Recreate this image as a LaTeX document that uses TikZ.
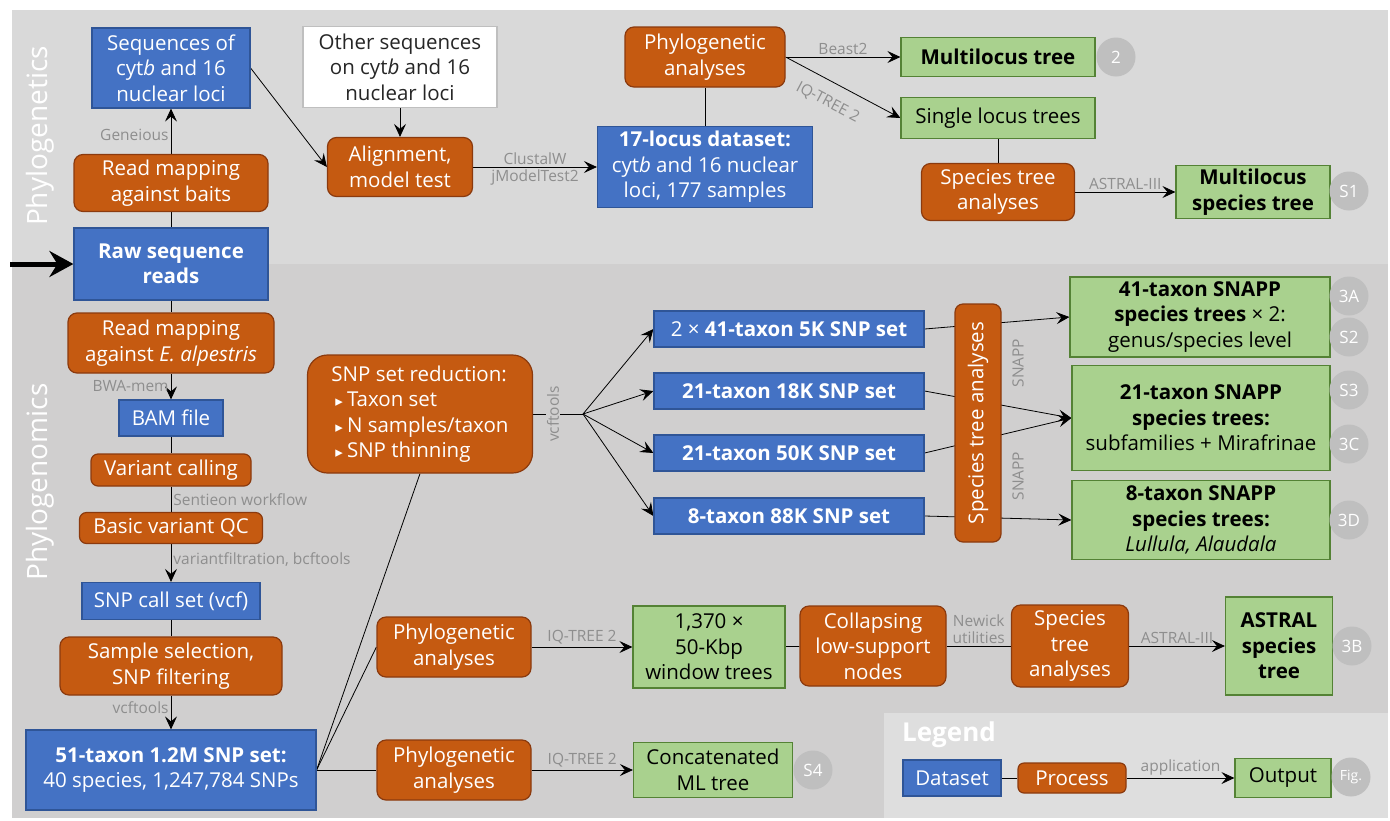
\documentclass[tikz,border=0pt]{standalone}
\usepackage{fontspec}
\setmainfont{Open Sans}
\newfontfamily\symfont{DejaVu Sans}
\usepackage{tikz}
\usetikzlibrary{arrows.meta}
\pgfdeclarelayer{bg}
\pgfsetlayers{bg,main}

\definecolor{dsblue}{HTML}{4472C4}
\definecolor{dsborder}{HTML}{2F5597}
\definecolor{prorange}{HTML}{C55A11}
\definecolor{prborder}{HTML}{8B3A0E}
\definecolor{outgreen}{HTML}{A9D18E}
\definecolor{outborder}{HTML}{548235}
\definecolor{figgray}{HTML}{BFBFBF}
\definecolor{toolgray}{HTML}{8E8E8E}
\definecolor{paneltop}{HTML}{D9D9D9}
\definecolor{panelbot}{HTML}{D0CFCF}
\definecolor{panelleg}{HTML}{DEDEDE}

\newcommand\boxfont{\fontsize{20.5}{25.5}\selectfont}
\newcommand\toolfont{\fontsize{15.5}{18}\selectfont}
\newcommand\figfont{\fontsize{17}{18}\selectfont}
\newcommand\tri{{\symfont\fontsize{15}{15}\selectfont ▸}\hspace{4pt}}

\tikzset{
  dataset/.style={draw=dsborder, line width=1.2pt, fill=dsblue, text=white, align=center, inner sep=2pt},
  process/.style={draw=prborder, line width=1.2pt, fill=prorange, text=white, align=center, inner sep=2pt, rounded corners=9pt},
  output/.style={draw=outborder, line width=1.2pt, fill=outgreen, text=black, align=center, inner sep=2pt},
  source/.style={draw=figgray, line width=1.2pt, fill=white, text=black!85, align=center, inner sep=2pt},
  figref/.style={circle, fill=figgray, text=white, minimum size=39pt, inner sep=0pt, font=\figfont},
  tool/.style={text=toolgray, font=\toolfont, inner sep=2pt},
  flow/.style={-{Stealth[length=13pt, width=12pt, inset=5pt]}, line width=0.8pt},
  link/.style={line width=0.8pt},
  panel/.style={text=white, font=\fontsize{28}{30}\selectfont, rotate=90},
}

\begin{document}
\begin{tikzpicture}[x=1pt, y=-1pt, font=\boxfont]
        \useasboundingbox (0,0) rectangle (1390,820);
        % phylogenetics
        \node (seqs) [dataset, minimum width=158pt, minimum height=80pt] at (171,68) {Sequences of\\cyt\textit{b} and 16\\nuclear loci};
        \node (other) [source, minimum width=194pt, minimum height=81pt] at (400,67) {Other sequences\\on cyt\textit{b} and 16\\nuclear loci};
        \node (baits) [process, minimum width=194pt, minimum height=57pt] at (171,183) {Read mapping\\against baits};
        \node (raw) [dataset, minimum width=194pt, minimum height=72pt] at (171,264) {\textbf{Raw sequence}\\\textbf{reads}};
        \node (align) [process, minimum width=145pt, minimum height=59pt] at (400,167) {Alignment,\\model test};
        \node (locus) [dataset, minimum width=215pt, minimum height=81pt] at (705,167) {\textbf{17-locus dataset:}\\cyt\textit{b} and 16 nuclear\\loci, 177 samples};
        \node (phylA) [process, minimum width=160pt, minimum height=60pt] at (705,57) {Phylogenetic\\analyses};
        \node (mltree) [output, minimum width=194pt, minimum height=39pt] at (998,57) {\textbf{Multilocus tree}};
        \node (f2) [figref] at (1116,57) {2};
        \node (single) [output, minimum width=194pt, minimum height=41pt] at (998,118) {Single locus trees};
        \node (sptA) [process, minimum width=153pt, minimum height=57pt] at (998,192) {Species tree\\analyses};
        \node (mlsp) [output, minimum width=154pt, minimum height=53pt] at (1253,192) {\textbf{Multilocus}\\\textbf{species tree}};
        \node (fS1) [figref] at (1349,191) {S1};
        % phylogenomics
        \node (mapE) [process, minimum width=206pt, minimum height=60pt] at (171,343) {Read mapping\\against \textit{E. alpestris}};
        \node (bam) [dataset, minimum width=104pt, minimum height=36pt] at (171,418) {BAM file};
        \node (call) [process, minimum width=160pt, minimum height=32pt, rounded corners=7pt] at (171,470) {Variant calling};
        \node (qc) [process, minimum width=183pt, minimum height=31pt, rounded corners=7pt] at (171,528) {Basic variant QC};
        \node (vcf) [dataset, minimum width=178pt, minimum height=37pt] at (171,601) {SNP call set (vcf)};
        \node (select) [process, minimum width=222pt, minimum height=58pt] at (171,666) {Sample selection,\\SNP filtering};
        \node (snp51) [dataset, minimum width=290pt, minimum height=80pt] at (171,770) {\textbf{51-taxon 1.2M SNP set:}\\40 species, 1,247,784 SNPs};
        \node (reduce) [process, minimum width=225pt, minimum height=118pt, rounded corners=20pt, align=left] at (420,414) {SNP set reduction:\\\hspace*{4pt}\tri Taxon set\\\hspace*{4pt}\tri N samples/taxon\\\hspace*{4pt}\tri SNP thinning};
        \node (set41) [dataset, minimum width=270pt, minimum height=36pt] at (789,329) {2 × \textbf{41-taxon 5K SNP set}};
        \node (set18) [dataset, minimum width=270pt, minimum height=36pt] at (789,391) {\textbf{21-taxon 18K SNP set}};
        \node (set50) [dataset, minimum width=270pt, minimum height=36pt] at (789,453) {\textbf{21-taxon 50K SNP set}};
        \node (set88) [dataset, minimum width=270pt, minimum height=36pt] at (789,516) {\textbf{8-taxon 88K SNP set}};
        \node (sptV) [process, rotate=90, minimum width=238pt, minimum height=46pt, rounded corners=8pt] at (978,423) {Species tree analyses};
        \node (snapp41) [output, minimum width=260pt, minimum height=80pt] at (1200,317) {\textbf{41-taxon SNAPP}\\\textbf{species trees} × 2:\\genus/species level};
        \node (snapp21) [output, minimum width=258pt, minimum height=105pt] at (1201,418) {\textbf{21-taxon SNAPP}\\\textbf{species trees:}\\subfamilies + Mirafrinae};
        \node (snapp8) [output, minimum width=258pt, minimum height=79pt] at (1201,520) {\textbf{8-taxon SNAPP}\\\textbf{species trees:}\\\textit{Lullula, Alaudala}};
        \node (f3A) [figref] at (1349,296) {3A};
        \node (fS2) [figref] at (1349,337) {S2};
        \node (fS3) [figref] at (1349,390) {S3};
        \node (f3C) [figref] at (1349,444) {3C};
        \node (f3D) [figref] at (1349,520) {3D};
        \node (phylB) [process, minimum width=154pt, minimum height=60pt] at (454,647) {Phylogenetic\\analyses};
        \node (win) [output, minimum width=152pt, minimum height=82pt] at (709,647) {1,370 ×\\50-Kbp\\window trees};
        \node (collapse) [process, minimum width=146pt, minimum height=80pt] at (873,646) {Collapsing\\low-support\\nodes};
        \node (sptB) [process, minimum width=117pt, minimum height=82pt] at (1070,646) {Species\\tree\\analyses};
        \node (astral) [output, minimum width=107pt, minimum height=98pt] at (1279,646) {\textbf{ASTRAL}\\\textbf{species}\\\textbf{tree}};
        \node (f3B) [figref] at (1352,646) {3B};
        \node (phylC) [process, minimum width=154pt, minimum height=60pt] at (454,770) {Phylogenetic\\analyses};
        \node (concat) [output, minimum width=159pt, minimum height=55pt] at (713,770) {Concatenated\\ML tree};
        \node (fS4) [figref] at (813,770) {S4};
        \coordinate (fan) at (583,414);
        \coordinate (start) at (10,264);
        % legend
        \node (legend) [text=white, font=\fontsize{26}{28}\selectfont\bfseries] at (949,735) {Legend};
        \node (legds) [dataset, minimum width=98pt, minimum height=36pt] at (952,778) {Dataset};
        \node (legpr) [process, minimum width=108pt, minimum height=30pt, rounded corners=6pt] at (1072,778) {Process};
        \node (legout) [output, minimum width=96pt, minimum height=39pt] at (1283,778) {Output};
        \node (figfig) [figref, font=\fontsize{14}{14}\selectfont] at (1351,777) {Fig.};
        % side titles
        \node (tgen) [panel] at (40,136) {Phylogenetics};
        \node (tgenom) [panel] at (40,482) {Phylogenomics};
        \begin{pgfonlayer}{bg}
                \fill[paneltop] (12,10) rectangle (1388,264);
                \fill[panelbot] (12,264) rectangle (1388,818);
                \fill[panelleg] (884,713) rectangle (1388,818);
                \draw (start) edge [-{Stealth[length=24pt, width=26pt, inset=8pt]}, line width=5pt] (raw);
                \draw (raw) edge [link] (baits);
                \draw (baits) edge [flow] node [tool, left, pos=0.43] {Geneious} (seqs);
                \draw (seqs.east) edge [flow] (align.west);
                \draw (other) edge [flow] (align);
                \draw (align) edge [flow] node [tool, above] {ClustalW} node [tool, below] {jModelTest2} (locus);
                \draw (locus) edge [link] (phylA);
                \draw (phylA.east) edge [flow] node [tool, below, sloped, pos=0.45, inner sep=1pt, yshift=-12pt] {IQ-TREE 2} (single.west);
                \draw (phylA.east) edge [flow] node [tool, above] {Beast2} (mltree);
                \draw (single) edge [link] (sptA);
                \draw (sptA) edge [flow] node [tool, above] {ASTRAL-III} (mlsp);
                \draw (raw) edge [link] (mapE);
                \draw (mapE) edge [flow] node [tool, left, pos=0.5] {BWA-mem} (bam);
                \draw (bam) edge [link] (call);
                \draw (call) edge [link] node [tool, right] {Sentieon workflow} (qc);
                \draw (qc) edge [flow] node [tool, right, pos=0.4] {variantfiltration, bcftools} (vcf);
                \draw (vcf) edge [link] (select);
                \draw (select) edge [flow] node [tool, left, pos=0.37] {vcftools} (snp51);
                \draw (snp51.east) edge [link] (reduce.south);
                \draw (snp51.east) edge [link] (phylB.west);
                \draw (snp51.east) edge [link] (phylC.west);
                \draw (reduce.east) edge [link] node [tool, fill=panelbot, rotate=90, inner sep=1pt, pos=0.4] {vcftools} (fan);
                \draw (fan) edge [flow] (set41.west);
                \draw (fan) edge [flow] (set18.west);
                \draw (fan) edge [flow] (set50.west);
                \draw (fan) edge [flow] (set88.west);
                \draw (set41.east) edge [flow] (snapp41.west);
                \draw (set18.east) edge [flow] (snapp21.west);
                \draw (set50.east) edge [flow] (snapp21.west);
                \draw (set88.east) edge [flow] (snapp8.west);
                \draw (phylB) edge [flow] node [tool, above] {IQ-TREE 2} (win);
                \draw (win) edge [link] (collapse);
                \draw (collapse) edge [link] node [tool, above, align=center, font=\fontsize{15.5}{17}\selectfont] {Newick\\utilities} (sptB);
                \draw (sptB) edge [flow] node [tool, above] {ASTRAL-III} (astral);
                \draw (phylC) edge [flow] node [tool, above] {IQ-TREE 2} (concat);
                \draw (legds) edge [link] (legpr);
                \draw (legpr) edge [flow] node [tool, above] {application} (legout);
        \end{pgfonlayer}
        \node (snappA) [tool, rotate=90] at (1018,363) {SNAPP};
        \node (snappB) [tool, rotate=90] at (1018,476) {SNAPP};
\end{tikzpicture}
\end{document}
